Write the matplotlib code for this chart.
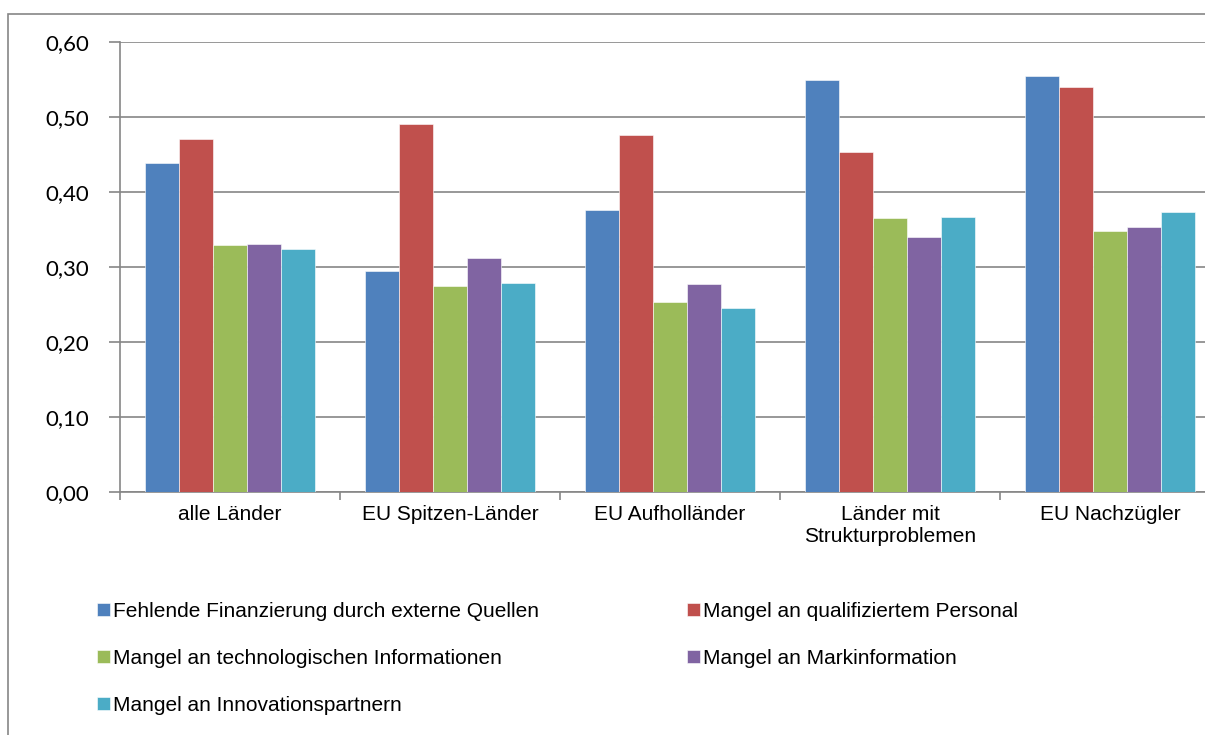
import matplotlib.pyplot as plt
import matplotlib.patches as mpatches
import numpy as np

# Categories and series values
categories = ['alle Länder', 'EU Spitzen-Länder', 'EU Aufholländer',
              'Länder mit\nStrukturproblemen', 'EU Nachzügler']
series_names = ['Fehlende Finanzierung durch externe Quellen',
                'Mangel an qualifiziertem Personal',
                'Mangel an technologischen Informationen',
                'Mangel an Markinformation',
                'Mangel an Innovationspartnern']
finanzierung = [0.439, 0.295, 0.376, 0.549, 0.554]
personal = [0.471, 0.491, 0.476, 0.454, 0.540]
technologie = [0.329, 0.275, 0.253, 0.366, 0.348]
markt = [0.331, 0.312, 0.277, 0.340, 0.354]
partner = [0.324, 0.279, 0.245, 0.367, 0.374]
colors = ['#4F81BD', '#C0504D', '#9BBB59', '#8064A2', '#4BACC6']
yticks = [0.0, 0.1, 0.2, 0.3, 0.4, 0.5, 0.6]

W, H = 1205, 735
fig = plt.figure(figsize=(W / 100, H / 100), dpi=100)

# outer chart frame (runs off the right and bottom edge)
fig.patches.append(mpatches.Rectangle((8 / W, -0.05), 1.2, 1 - 14 / H + 0.05,
                                      transform=fig.transFigure, fill=False,
                                      edgecolor='#868686', linewidth=1.2))

ax = fig.add_axes([120 / W, (H - 492) / H, 1100 / W, 450 / H])

x = np.arange(len(categories))
bw = 0.155
data = [finanzierung, personal, technologie, markt, partner]
bars = []
for i, vals in enumerate(data):
    b = ax.bar(x + (i - 2) * bw, vals, bw, color=colors[i],
               edgecolor='white', linewidth=0.4, zorder=3,
               label=series_names[i])
    bars.append(b)

ax.set_xlim(-0.5, len(categories) - 0.5)
ax.set_ylim(0, 0.6)
ax.set_yticks(yticks)
ax.set_yticklabels([f'{v:.2f}'.replace('.', ',') for v in yticks],
                   fontsize=16, family='Lato')
ax.yaxis.grid(True, color='#868686', linewidth=1.2, zorder=0)

ax.set_xticks(x)
ax.set_xticklabels(categories, fontsize=15, family='Liberation Sans',
                   linespacing=1.2)
ax.set_xticks(np.arange(len(categories) + 1) - 0.5, minor=True)
ax.tick_params(axis='x', which='major', length=0, pad=9)
ax.tick_params(axis='x', which='minor', length=6, color='#868686', width=1.2)
ax.tick_params(axis='y', length=8, color='#868686', width=1.2, pad=14)

for s in ['top', 'right']:
    ax.spines[s].set_visible(False)
for s in ['left', 'bottom']:
    ax.spines[s].set_color('#868686')
    ax.spines[s].set_linewidth(1.2)

# legend, row-wise like the original (column-major fill -> reorder)
order = [0, 2, 4, 1, 3]
handles = [bars[i] for i in order]
labels = [series_names[i] for i in order]
fig.legend(handles, labels, loc='upper left',
           bbox_to_anchor=(78 / W, 1 - 583 / H), ncol=2, frameon=False,
           prop={'family': 'Liberation Sans', 'size': 15},
           handlelength=0.62, handleheight=0.62, handletextpad=0.15,
           labelspacing=1.35, columnspacing=7.1)

fig.savefig('out.png', dpi=100)
